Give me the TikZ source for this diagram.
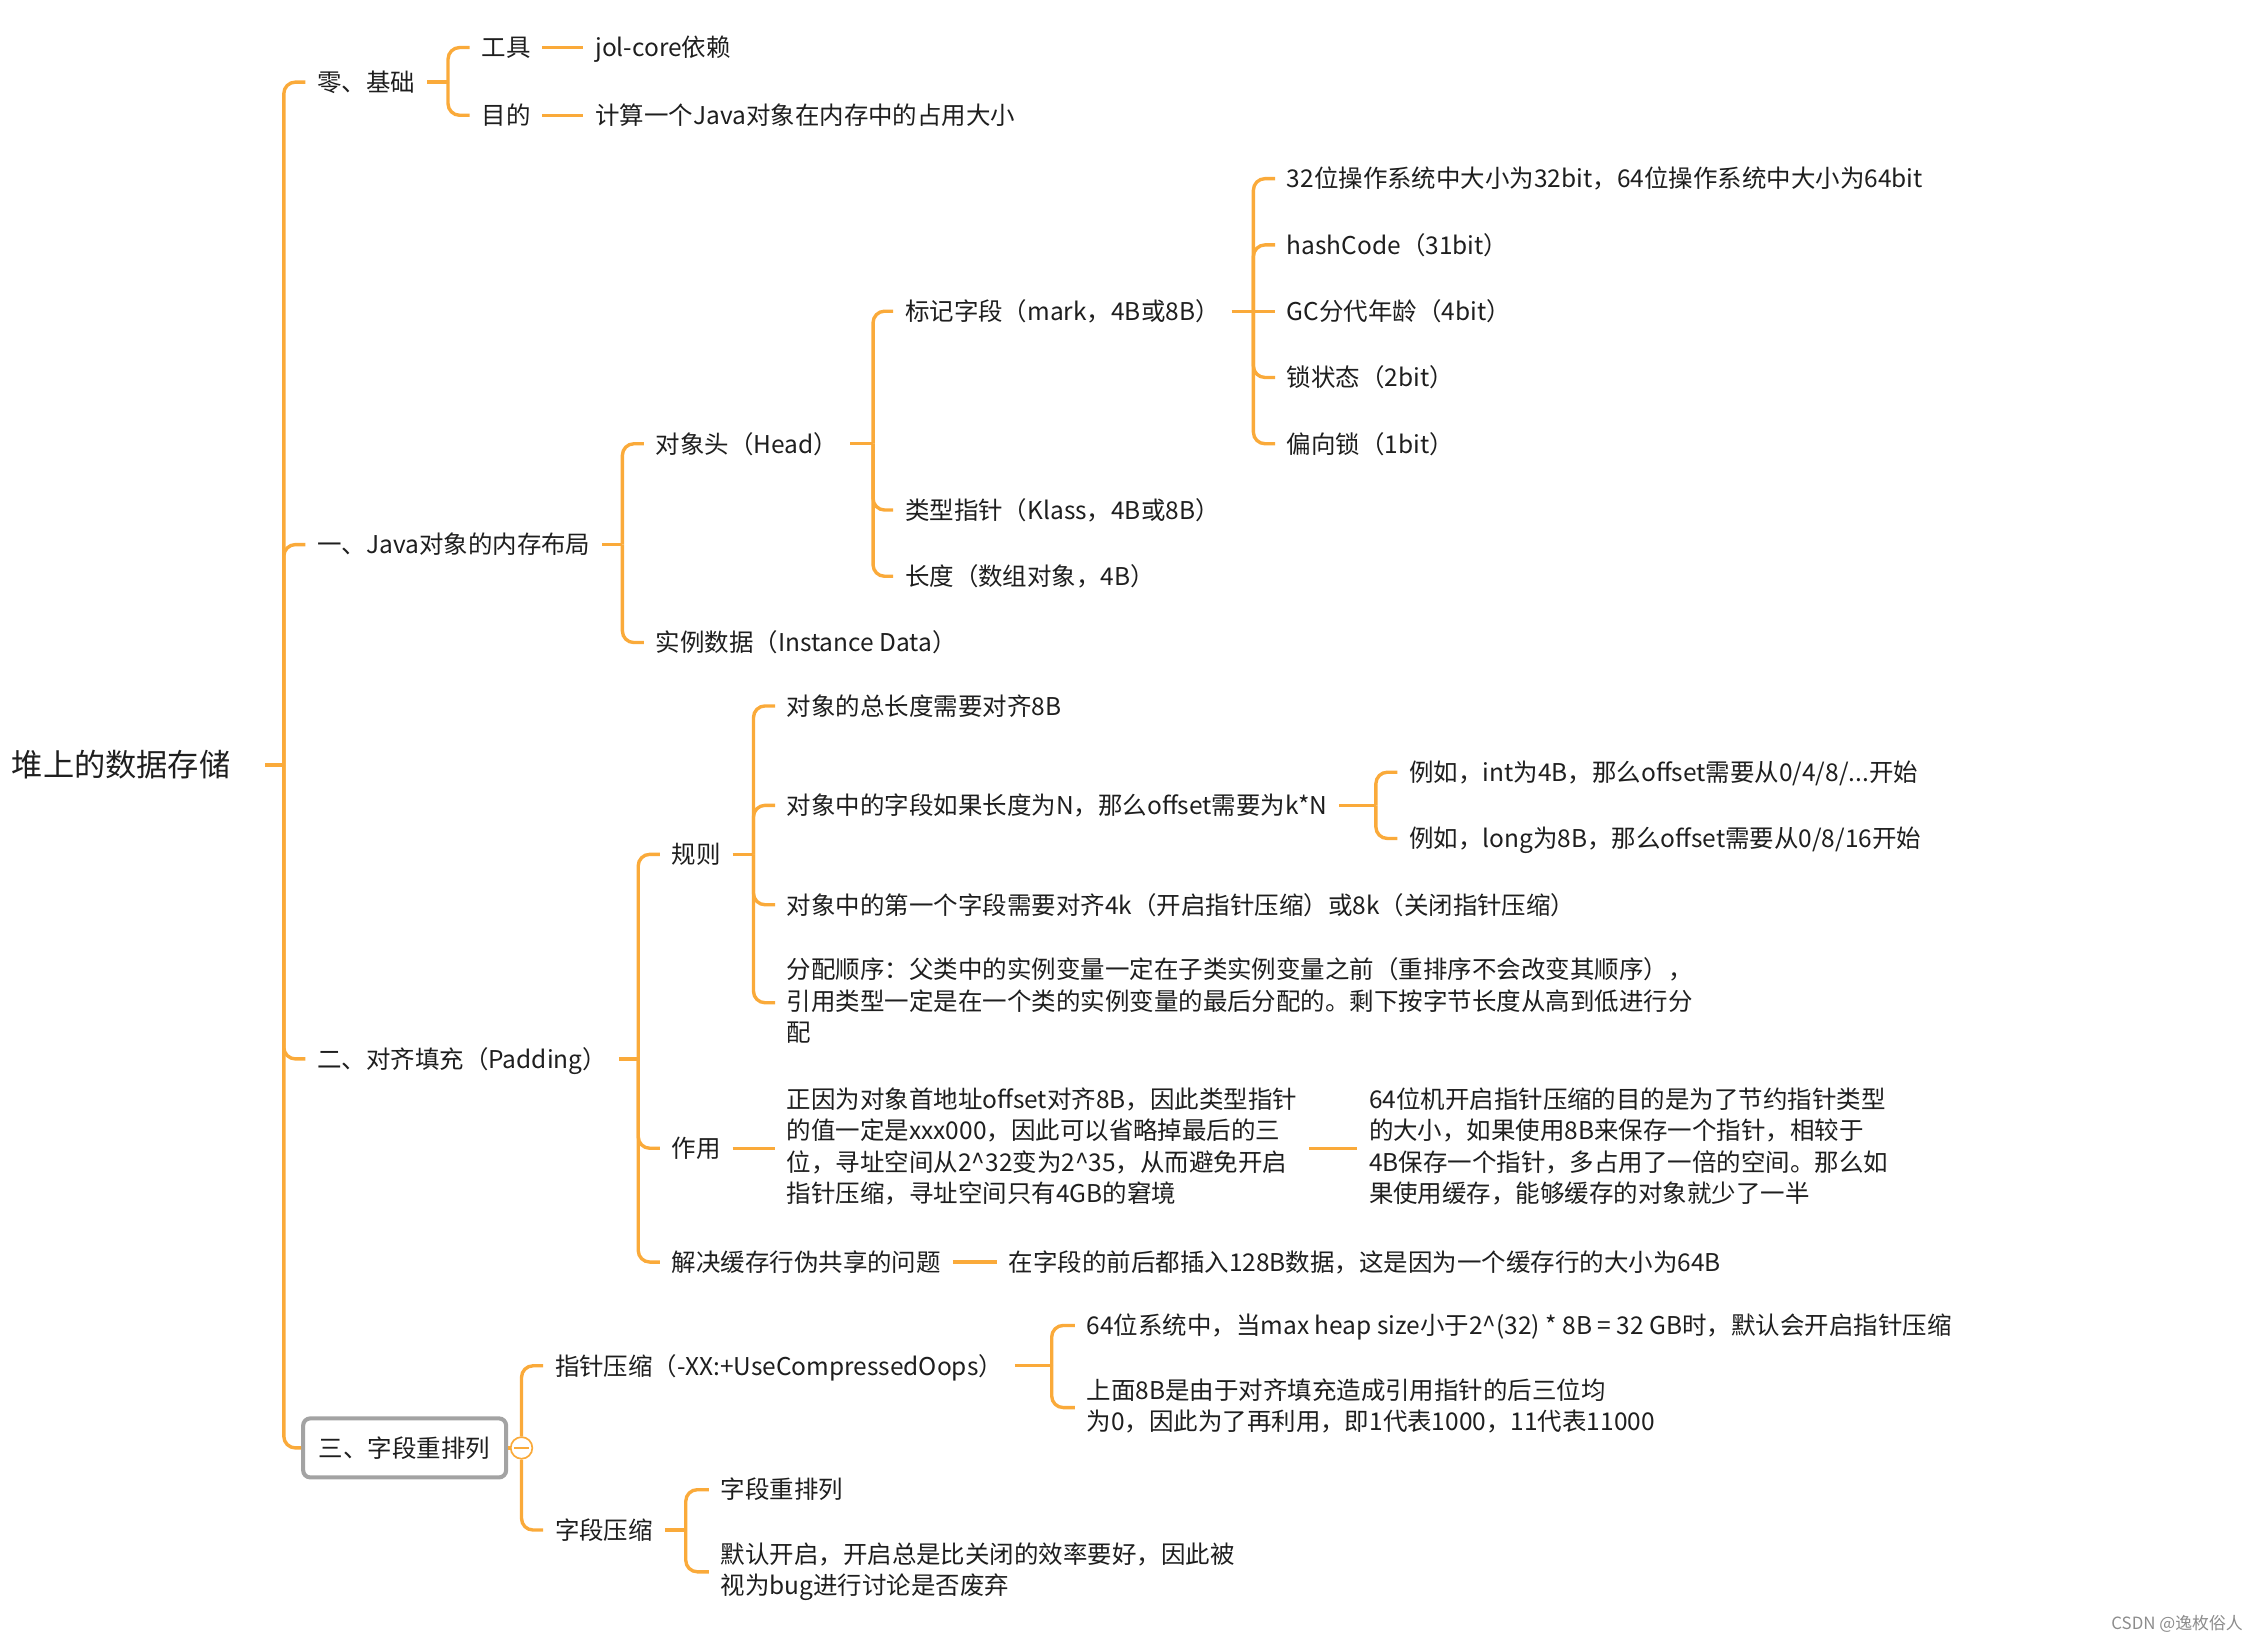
\documentclass[tikz,border=0pt]{standalone}
\usepackage{fontspec}
\setmainfont{Noto Sans CJK SC}
\definecolor{branch}{RGB}{250,170,58}
\definecolor{ink}{RGB}{30,30,30}
\definecolor{frame}{RGB}{163,163,163}
\newcommand\mmstrut{\rule[-0.25em]{0pt}{1.26em}}
\begin{document}
\begin{tikzpicture}[x=0.03cm,y=-0.03cm,
    topic/.style={anchor=west,inner xsep=0.24cm,inner ysep=0pt,text=ink,align=left,
      font=\fontsize{14.5}{18.7}\selectfont,execute at begin node=\mmstrut,execute at end node=\mmstrut},
    boxtopic/.style={topic,draw=frame,line width=2.4pt,rounded corners=0.15cm,fill=white,inner xsep=0.33cm,minimum height=1.23cm},
    limb/.style={draw=branch,line width=2pt},
    twig/.style={limb,rounded corners=0.24cm}]
    \useasboundingbox (0,0) rectangle (1568,1140);
    \node[topic,font=\fontsize{18.5}{22}\selectfont,inner xsep=0.72cm] (root) at (-16,531) {堆上的数据存储};
    \coordinate (h0) at (197,531);
    \node[topic] (l0) at (212,57) {零、基础};
    \node[topic] (l1) at (212,378) {一、Java对象的内存布局};
    \node[topic] (l2) at (212,735) {二、对齐填充（Padding）};
    \node[boxtopic] (l3) at (209,1005) {三、字段重排列};
    \draw[limb] (root.east) -- (h0);
    \foreach \n in {l0,l1,l2,l3} \draw[twig] (h0) |- (\n.west);

    \coordinate (h1) at (311,57);
    \node[topic] (tool) at (326,33) {工具};
    \node[topic] (goal) at (326,80) {目的};
    \node[topic] (dep) at (405,33) {jol-core依赖};
    \node[topic] (calc) at (405,80) {计算一个Java对象在内存中的占用大小};
    \draw[limb] (l0.east) -- (h1);
    \foreach \n in {tool,goal} \draw[twig] (h1) |- (\n.west);
    \draw[limb] (tool.east) -- (dep.west);
    \draw[limb] (goal.east) -- (calc.west);

    \coordinate (h2) at (432,378);
    \node[topic] (head) at (447,308) {对象头（Head）};
    \node[topic] (inst) at (447,446) {实例数据（Instance Data）};
    \draw[limb] (l1.east) -- (h2);
    \foreach \n in {head,inst} \draw[twig] (h2) |- (\n.west);
    \coordinate (h3) at (606,308);
    \node[topic] (mark) at (620,216) {标记字段（mark，4B或8B）};
    \node[topic] (klass) at (620,354) {类型指针（Klass，4B或8B）};
    \node[topic] (len) at (620,400) {长度（数组对象，4B）};
    \draw[limb] (head.east) -- (h3);
    \foreach \n in {mark,klass,len} \draw[twig] (h3) |- (\n.west);
    \coordinate (h4) at (870,216);
    \foreach \t [count=\i] in {32位操作系统中大小为32bit，64位操作系统中大小为64bit,hashCode（31bit）,GC分代年龄（4bit）,锁状态（2bit）,偏向锁（1bit）}
      \node[topic] (m\i) at (885,{78+46*\i}) {\t};
    \draw[limb] (mark.east) -- (h4) -- (m3.west);
    \foreach \i in {1,2,4,5} \draw[twig] (h4) |- (m\i.west);

    \coordinate (h5) at (443,735);
    \node[topic] (rule) at (458,593) {规则};
    \node[topic] (use) at (458,797) {作用};
    \node[topic] (share) at (458,876) {解决缓存行伪共享的问题};
    \draw[limb] (l2.east) -- (h5);
    \foreach \n in {rule,use,share} \draw[twig] (h5) |- (\n.west);
    \coordinate (h6) at (523,593);
    \node[topic] (r1) at (538,490) {对象的总长度需要对齐8B};
    \node[topic] (r2) at (538,559) {对象中的字段如果长度为N，那么offset需要为k*N};
    \node[topic] (r3) at (538,628) {对象中的第一个字段需要对齐4k（开启指针压缩）或8k（关闭指针压缩）};
    \node[topic] (r4) at (538,696) {分配顺序：父类中的实例变量一定在子类实例变量之前（重排序不会改变其顺序），\\引用类型一定是在一个类的实例变量的最后分配的。剩下按字节长度从高到低进行分\\配};
    \draw[limb] (rule.east) -- (h6);
    \foreach \n in {r1,r2,r3,r4} \draw[twig] (h6) |- (\n.west);
    \coordinate (h7) at (955,559);
    \node[topic] (e1) at (970,536) {例如，int为4B，那么offset需要从0/4/8/...开始};
    \node[topic] (e2) at (970,582) {例如，long为8B，那么offset需要从0/8/16开始};
    \draw[limb] (r2.east) -- (h7);
    \foreach \n in {e1,e2} \draw[twig] (h7) |- (\n.west);
    \node[topic] (u1) at (538,797) {正因为对象首地址offset对齐8B，因此类型指针\\的值一定是xxx000，因此可以省略掉最后的三\\位，寻址空间从2\textasciicircum32变为2\textasciicircum35，从而避免开启\\指针压缩，寻址空间只有4GB的窘境};
    \node[topic] (u2) at (942,797) {64位机开启指针压缩的目的是为了节约指针类型\\的大小，如果使用8B来保存一个指针，相较于\\4B保存一个指针，多占用了一倍的空间。那么如\\果使用缓存，能够缓存的对象就少了一半};
    \draw[limb] (use.east) -- (u1.west);
    \draw[limb] (u1.east) -- (u2.west);
    \node[topic] (s1) at (692,876) {在字段的前后都插入128B数据，这是因为一个缓存行的大小为64B};
    \draw[limb] (share.east) -- (s1.west);

    \node[circle,draw=branch,line width=1pt,fill=white,minimum size=0.45cm,inner sep=0pt,
      path picture={\draw[branch,line width=1pt] ([xshift=-0.15cm]path picture bounding box.center) -- ([xshift=0.15cm]path picture bounding box.center);}] (fold) at (362,1005) {};
    \draw[limb] (l3.east) -- (fold.west);
    \node[topic] (ptr) at (377,948) {指针压缩（-XX:+UseCompressedOops）};
    \node[topic] (fld) at (377,1062) {字段压缩};
    \draw[twig] (fold.north) |- (ptr.west);
    \draw[twig] (fold.south) |- (fld.west);
    \coordinate (h8) at (730,948);
    \node[topic] (p1) at (746,920) {64位系统中，当max heap size小于2\textasciicircum(32) * 8B = 32 GB时，默认会开启指针压缩};
    \node[topic] (p2) at (746,977) {上面8B是由于对齐填充造成引用指针的后三位均\\为0，因此为了再利用，即1代表1000，11代表11000};
    \draw[limb] (ptr.east) -- (h8);
    \foreach \n in {p1,p2} \draw[twig] (h8) |- (\n.west);
    \coordinate (h9) at (476,1062);
    \node[topic] (f1) at (492,1034) {字段重排列};
    \node[topic] (f2) at (492,1091) {默认开启，开启总是比关闭的效率要好，因此被\\视为bug进行讨论是否废弃};
    \draw[limb] (fld.east) -- (h9);
    \foreach \n in {f1,f2} \draw[twig] (h9) |- (\n.west);

    \node[anchor=east,inner sep=0pt,text=black!45,font=\fontsize{10}{12}\selectfont] (sign) at (1557,1127) {CSDN @逸枚俗人};
\end{tikzpicture}
\end{document}
